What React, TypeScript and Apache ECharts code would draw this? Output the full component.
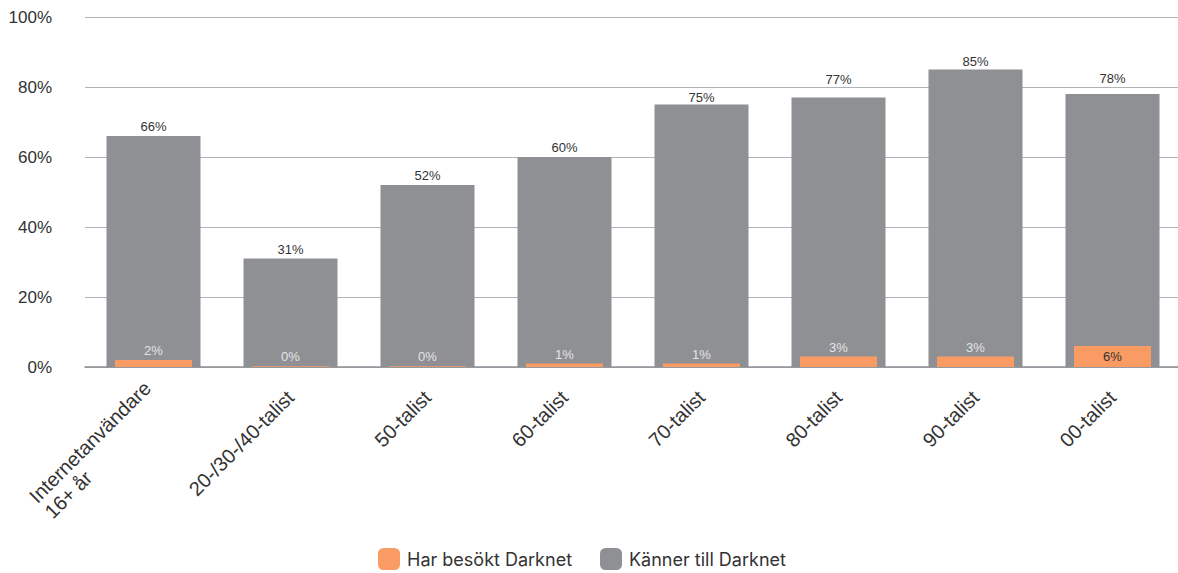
import React, { useEffect, useRef } from "react";
import * as echarts from "echarts";

const categories = [
  "Internetanvändare\n16+ år",
  "20-/30-/40-talist",
  "50-talist",
  "60-talist",
  "70-talist",
  "80-talist",
  "90-talist",
  "00-talist",
];
const visited = [2, 0.2, 0.2, 1, 1, 3, 3, 6];
const knows = [66, 31, 52, 60, 75, 77, 85, 78];
const knowsLabelLift = [3, 3, 3, 3, 1, 12, 2, 9];
const yTicks = [0, 20, 40, 60, 80, 100];
const seriesNames = ["Har besökt Darknet", "Känner till Darknet"];

const FONT = "'Liberation Sans', Arial, sans-serif";

export default function App() {
  const ref = useRef<HTMLDivElement>(null);
  useEffect(() => {
    if (!ref.current) return;
    const chart = echarts.init(ref.current, null, { renderer: "svg" });
    const xLabel = {
      interval: 0,
      rotate: 45,
      margin: 27,
      fontSize: 20,
      color: "#333",
      fontFamily: FONT,
      formatter: (v: string, i: number) => {
        if (i === 0) {
          const parts = v.split("\n");
          return parts.map((p) => `{a|${p}}`).join("\n");
        }
        return v;
      },
      rich: {
        a: { width: 160, align: "left", fontSize: 20, color: "#333", fontFamily: FONT, lineHeight: 22 },
      },
    };
    chart.setOption({
      animation: false,
      grid: { left: 85, right: 1, top: 17, bottom: 206, containLabel: false },
      legend: {
        data: seriesNames,
        left: 378,
        top: 548,
        itemWidth: 22,
        itemHeight: 22,
        itemGap: 28,
        icon: "roundRect",
        padding: 0,
        textStyle: { fontSize: 18, color: "#333", fontFamily: "Inter, sans-serif", padding: [0, 0, 0, 2] },
      },
      xAxis: [
        {
          type: "category",
          data: categories,
          axisTick: { show: false },
          axisLine: { lineStyle: { color: "#8e9094", width: 1.5 } },
          axisLabel: xLabel,
        },
        {
          type: "category",
          data: categories,
          show: false,
          position: "bottom",
        },
      ],
      yAxis: {
        type: "value",
        min: 0,
        max: yTicks[yTicks.length - 1],
        interval: 20,
        axisLine: { show: false },
        axisTick: { show: false },
        splitLine: { lineStyle: { color: "#b0b3b7", width: 1 } },
        axisLabel: {
          formatter: "{value}%",
          fontSize: 17,
          color: "#333",
          fontFamily: FONT,
          margin: 33,
        },
      },
      series: [
        {
          name: seriesNames[0],
          type: "bar",
          xAxisIndex: 1,
          barWidth: 77,
          z: 3,
          itemStyle: { color: "#f99b63" },
          data: visited.map((v) =>
            v >= 5
              ? { value: v, label: { position: "inside", color: "#333" } }
              : { value: v }
          ),
          label: {
            show: true,
            position: "top",
            distance: 3,
            fontSize: 13,
            color: "#e4e4e4",
            fontFamily: FONT,
            formatter: (p: any) => `${Math.round(p.value)}%`,
          },
        },
        {
          name: seriesNames[1],
          type: "bar",
          xAxisIndex: 0,
          barWidth: 94,
          z: 2,
          itemStyle: { color: "#8e9094" },
          data: knows.map((v, i) => ({ value: v, label: { distance: knowsLabelLift[i] } })),
          label: {
            show: true,
            position: "top",
            distance: 3,
            fontSize: 13,
            color: "#333",
            fontFamily: FONT,
            formatter: "{c}%",
          },
        },
      ],
    });
    return () => chart.dispose();
  }, []);
  return (
    <div style={{ position: "absolute", left: 0, top: 0, width: 1178, height: 573, overflow: "hidden" }}>
      <div ref={ref} style={{ width: 1182, height: 573 }} />
    </div>
  );
}
